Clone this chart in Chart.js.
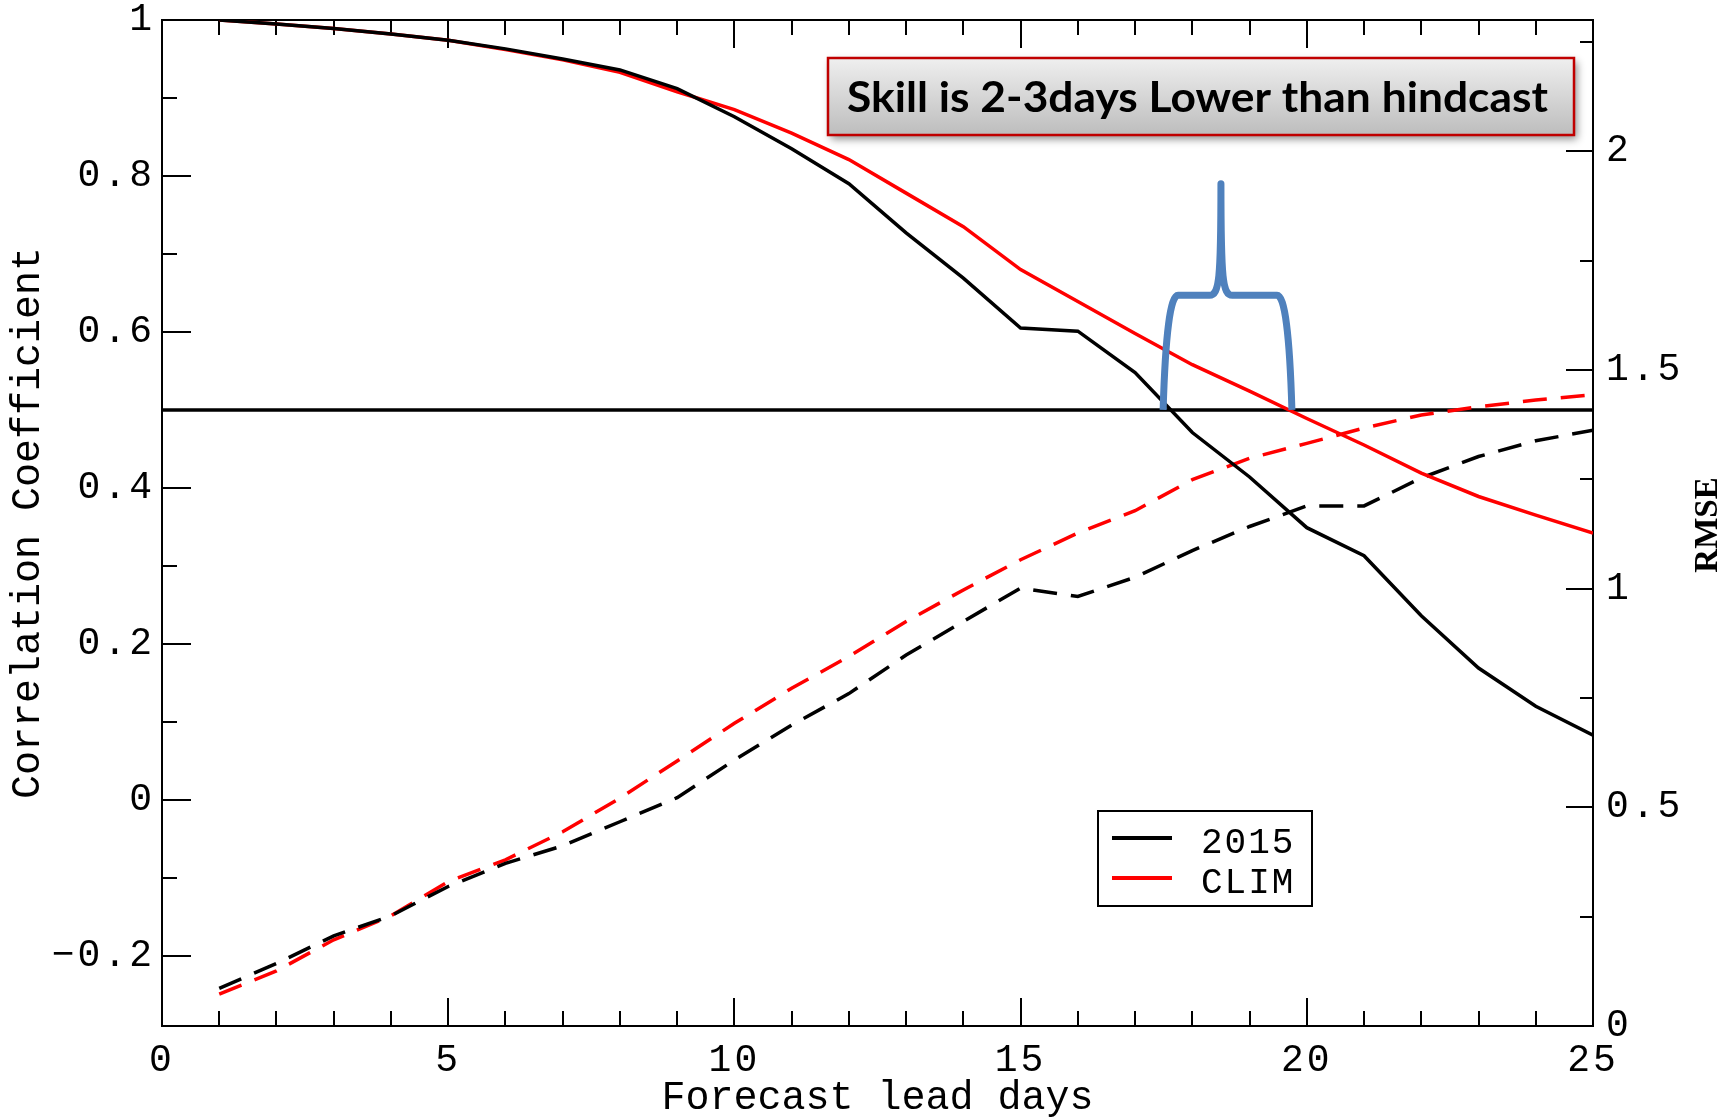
<!DOCTYPE html>
<html>
<head>
<meta charset="utf-8">
<title>Forecast skill</title>
<script src="https://cdn.jsdelivr.net/npm/chart.js@4.4.1/dist/chart.umd.min.js"></script>
<style>
  html, body { margin: 0; padding: 0; background: #fff; }
  canvas { display: block; }
</style>
</head>
<body>
<canvas id="skill" width="1734" height="1118"></canvas>
<script>
// lead time in days
const leadDays = [1, 2, 3, 4, 5, 6, 7, 8, 9, 10, 11, 12, 13, 14, 15, 16, 17, 18, 19, 20, 21, 22, 23, 24, 25];

// anomaly correlation (left axis)
const corr2015 = [1.000, 0.995, 0.989, 0.982, 0.974, 0.963, 0.950, 0.936, 0.912, 0.876, 0.835, 0.790, 0.727, 0.669, 0.605, 0.601, 0.548, 0.471, 0.414, 0.349, 0.313, 0.236, 0.169, 0.120, 0.083];
const corrClim = [1.000, 0.995, 0.989, 0.982, 0.974, 0.962, 0.949, 0.933, 0.908, 0.885, 0.855, 0.821, 0.778, 0.735, 0.680, 0.639, 0.598, 0.558, 0.524, 0.489, 0.455, 0.419, 0.389, 0.365, 0.342];

// RMSE (right axis, dashed)
const rmse2015 = [0.086, 0.143, 0.206, 0.252, 0.319, 0.372, 0.412, 0.467, 0.522, 0.608, 0.688, 0.760, 0.848, 0.925, 1.001, 0.982, 1.026, 1.087, 1.142, 1.189, 1.189, 1.253, 1.302, 1.338, 1.362];
const rmseClim = [0.073, 0.126, 0.197, 0.252, 0.330, 0.380, 0.444, 0.521, 0.606, 0.692, 0.772, 0.845, 0.925, 0.997, 1.066, 1.127, 1.178, 1.249, 1.298, 1.332, 1.367, 1.397, 1.416, 1.431, 1.443];

const skillThreshold = 0.5;

const dayTicks = [0, 5, 10, 15, 20, 25];
const dayTickLabels = ['0', '5', '10', '15', '20', '25'];
const corrTicks = [-0.2, 0, 0.2, 0.4, 0.6, 0.8, 1];
const corrTickLabels = ['\u22120.2', '0', '0.2', '0.4', '0.6', '0.8', '1'];
const rmseTicks = [0, 0.5, 1, 1.5, 2];
const rmseTickLabels = ['0', '0.5', '1', '1.5', '2'];

const seriesNames = ['2015', 'CLIM'];
const seriesColors = ['#000000', '#ff0000'];
const noteText = 'Skill is 2-3days Lower than hindcast';

const MONO = '"Liberation Mono", "DejaVu Sans Mono", monospace';

const pts = (ys) => leadDays.map((d, i) => ({ x: d, y: ys[i] }));

// frame ticks point inward on every side
function drawFrameTicks(chart) {
    const { ctx, chartArea: a, scales: { x, y, y1 } } = chart;
    ctx.save();
    ctx.strokeStyle = '#000';
    ctx.lineWidth = 2;
    ctx.beginPath();
    ctx.moveTo(a.left, a.top);
    ctx.lineTo(a.right, a.top);
    for (let d = 0; d <= 25; d++) {
        const len = d % 5 === 0 ? 28 : 15;
        const px = Math.round(x.getPixelForValue(d));
        ctx.moveTo(px, a.bottom);
        ctx.lineTo(px, a.bottom - len);
        ctx.moveTo(px, a.top);
        ctx.lineTo(px, a.top + len);
    }
    for (let k = -2; k <= 10; k++) {
        const len = k % 2 === 0 ? 29 : 15;
        const py = Math.round(y.getPixelForValue(k / 10));
        ctx.moveTo(a.left, py);
        ctx.lineTo(a.left + len, py);
    }
    for (let k = 0; k <= 9; k++) {
        const len = k % 2 === 0 ? 27 : 13;
        const py = Math.round(y1.getPixelForValue(k * 0.25));
        ctx.moveTo(a.right, py);
        ctx.lineTo(a.right - len, py);
    }
    ctx.stroke();
    ctx.restore();
}

// curly bracket spanning the two threshold crossings
function drawBrace(chart) {
    const { ctx, scales: { x, y } } = chart;
    const px = (d) => x.getPixelForValue(d);
    const py = (v) => y.getPixelForValue(v);
    const left = 17.49, right = 19.74, mid = 18.5, bar = 0.647, tip = 0.79;
    ctx.save();
    ctx.strokeStyle = '#4f81bd';
    ctx.lineWidth = 7;
    ctx.lineJoin = 'round';
    ctx.lineCap = 'butt';
    ctx.beginPath();
    ctx.moveTo(px(left), py(skillThreshold));
    ctx.quadraticCurveTo(px(left + 0.06), py(bar), px(left + 0.26), py(bar));
    ctx.lineTo(px(mid - 0.2), py(bar));
    ctx.bezierCurveTo(px(mid - 0.03), py(bar), px(mid), py(bar + 0.02), px(mid), py(tip));
    ctx.bezierCurveTo(px(mid), py(bar + 0.02), px(mid + 0.03), py(bar), px(mid + 0.2), py(bar));
    ctx.lineTo(px(right - 0.26), py(bar));
    ctx.quadraticCurveTo(px(right - 0.06), py(bar), px(right), py(skillThreshold));
    ctx.stroke();
    ctx.restore();
}

function drawNote(chart) {
    const { ctx } = chart;
    const bx = 828, by = 58, bw = 746, bh = 77;
    ctx.save();
    ctx.shadowColor = 'rgba(0, 0, 0, 0.45)';
    ctx.shadowBlur = 8;
    ctx.shadowOffsetX = 3;
    ctx.shadowOffsetY = 4;
    const g = ctx.createLinearGradient(0, by, 0, by + bh);
    g.addColorStop(0, '#efefef');
    g.addColorStop(1, '#bdbdbd');
    ctx.fillStyle = g;
    ctx.fillRect(bx, by, bw, bh);
    ctx.restore();

    ctx.save();
    ctx.strokeStyle = '#c00000';
    ctx.lineWidth = 2.5;
    ctx.strokeRect(bx, by, bw, bh);
    ctx.font = 'bold 42px Lato, "Open Sans", sans-serif';
    ctx.fillStyle = '#000';
    ctx.textBaseline = 'alphabetic';
    ctx.textAlign = 'left';
    const w = ctx.measureText(noteText).width;
    const target = 701;
    ctx.translate(847, 112);
    ctx.scale(target / w, 1);
    ctx.fillText(noteText, 0, 0);
    ctx.restore();
}

function drawKey(chart) {
    const { ctx } = chart;
    const kx = 1098, ky = 811, kw = 214, kh = 95;
    ctx.save();
    ctx.fillStyle = '#fff';
    ctx.fillRect(kx, ky, kw, kh);
    ctx.strokeStyle = '#000';
    ctx.lineWidth = 2;
    ctx.strokeRect(kx, ky, kw, kh);
    ctx.font = '36px ' + MONO;
    ctx.letterSpacing = '2px';
    ctx.textBaseline = 'middle';
    ctx.textAlign = 'left';
    seriesNames.forEach((name, i) => {
        const ly = ky + 27 + i * 40;
        ctx.strokeStyle = seriesColors[i];
        ctx.lineWidth = 4;
        ctx.beginPath();
        ctx.moveTo(kx + 14, ly);
        ctx.lineTo(kx + 74, ly);
        ctx.stroke();
        ctx.fillStyle = '#000';
        ctx.fillText(name, kx + 103, ly + 5);
    });
    ctx.restore();
}

function drawRightTitle(chart) {
    const { ctx } = chart;
    ctx.save();
    ctx.translate(1708, 525);
    ctx.rotate(-Math.PI / 2);
    ctx.font = 'bold 33px "Liberation Serif", serif';
    ctx.fillStyle = '#000';
    ctx.textAlign = 'center';
    ctx.textBaseline = 'middle';
    ctx.fillText('RMSE', 0, 0);
    ctx.restore();
}

const decorations = {
    id: 'decorations',
    beforeDatasetsDraw(chart) {
        drawFrameTicks(chart);
    },
    afterDatasetsDraw(chart) {
        drawBrace(chart);
        drawNote(chart);
        drawKey(chart);
        drawRightTitle(chart);
        // tick labels (drawn in a later layer) use a wider spacing
        chart.ctx.letterSpacing = '3px';
    },
    afterDraw(chart) {
        chart.ctx.letterSpacing = '0px';
    }
};

const tickFont = { family: MONO, size: 38 };
const noEdgePadding = (s) => { s.paddingTop = 0; s.paddingBottom = 0; };

new Chart(document.getElementById('skill'), {
    type: 'line',
    data: {
        datasets: [
            { label: seriesNames[0], data: pts(corr2015), borderColor: seriesColors[0], borderWidth: 3.5, yAxisID: 'y' },
            { label: seriesNames[1], data: pts(corrClim), borderColor: seriesColors[1], borderWidth: 3.5, yAxisID: 'y' },
            { label: seriesNames[0] + ' RMSE', data: pts(rmse2015), borderColor: seriesColors[0], borderWidth: 3.5, borderDash: [24, 14], yAxisID: 'y1' },
            { label: seriesNames[1] + ' RMSE', data: pts(rmseClim), borderColor: seriesColors[1], borderWidth: 3.5, borderDash: [24, 14], yAxisID: 'y1' },
            { label: 'threshold', data: [{ x: 0, y: skillThreshold }, { x: 25, y: skillThreshold }], borderColor: '#000', borderWidth: 3.5, yAxisID: 'y' }
        ]
    },
    options: {
        responsive: false,
        animation: false,
        devicePixelRatio: 1,
        layout: { padding: { top: 20, left: 0, right: 0, bottom: 0 } },
        elements: { point: { radius: 0 }, line: { tension: 0 } },
        plugins: {
            legend: { display: false },
            tooltip: { enabled: false }
        },
        scales: {
            x: {
                type: 'linear',
                position: 'bottom',
                min: 0,
                max: 25,
                afterBuildTicks: (s) => { s.ticks = dayTicks.map((v) => ({ value: v })); },
                afterFit: (s) => { s.height = 92; s.paddingLeft = 0; s.paddingRight = 0; },
                ticks: {
                    font: tickFont, color: '#000', padding: 12, maxRotation: 0, autoSkip: false, z: 1,
                    callback: (v, i) => dayTickLabels[i]
                },
                grid: { display: false, drawTicks: false },
                border: { display: true, color: '#000', width: 2 },
                title: {
                    display: true, text: 'Forecast lead days', color: '#000',
                    font: { family: MONO, size: 40, lineHeight: 1 }, padding: { top: 0, bottom: 0 }
                }
            },
            y: {
                type: 'linear',
                position: 'left',
                min: -0.29,
                max: 1,
                afterBuildTicks: (s) => { s.ticks = corrTicks.map((v) => ({ value: v })); },
                afterFit: (s) => { s.width = 162; noEdgePadding(s); },
                ticks: {
                    font: tickFont, color: '#000', padding: 7, autoSkip: false, z: 1,
                    callback: (v, i) => corrTickLabels[i]
                },
                grid: { display: false, drawTicks: false },
                border: { display: true, color: '#000', width: 2 },
                title: {
                    display: true, text: 'Correlation Coefficient', color: '#000',
                    font: { family: MONO, size: 40, lineHeight: 1 }, padding: { top: 8, bottom: 0 }
                }
            },
            y1: {
                type: 'linear',
                position: 'right',
                min: 0,
                max: 2.3,
                afterBuildTicks: (s) => { s.ticks = rmseTicks.map((v) => ({ value: v })); },
                afterFit: (s) => { s.width = 141; noEdgePadding(s); },
                ticks: {
                    font: tickFont, color: '#000', padding: 13, autoSkip: false, z: 1,
                    callback: (v, i) => rmseTickLabels[i]
                },
                grid: { display: false, drawTicks: false },
                border: { display: true, color: '#000', width: 2 }
            }
        }
    },
    plugins: [decorations]
});
</script>
</body>
</html>
